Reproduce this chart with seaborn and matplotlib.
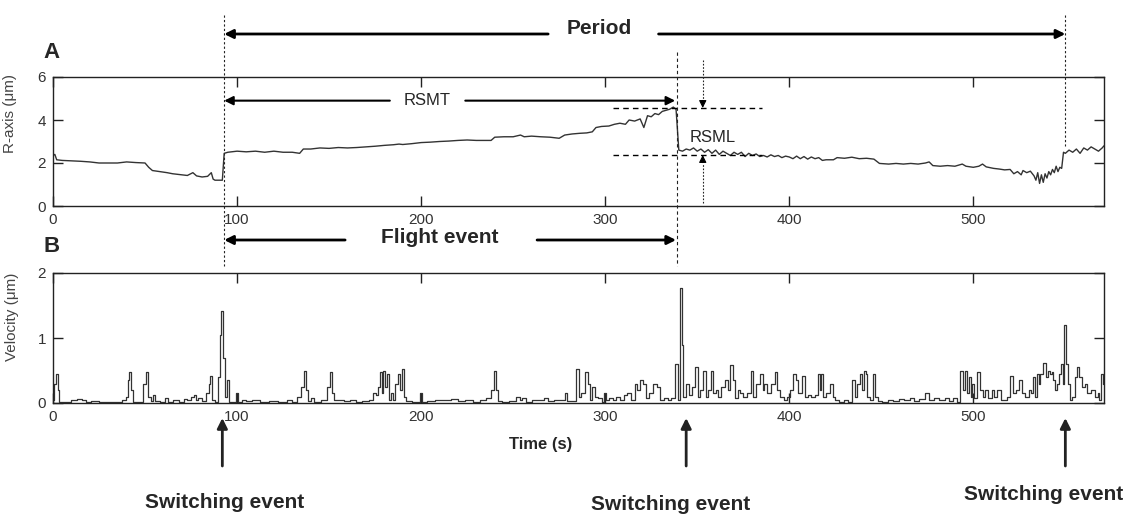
import matplotlib
matplotlib.use("Agg")
import matplotlib.pyplot as plt
from matplotlib.lines import Line2D
from matplotlib.transforms import blended_transform_factory
import pandas as pd
import seaborn as sns

# ---------------- data ----------------
r_time = [0, 1, 2, 5, 10, 15, 20, 25, 30, 35, 40, 45, 50, 52, 54, 58, 62, 65, 70, 73,
          76, 78, 81, 84, 86, 87, 88, 92, 93, 95, 100, 105, 110, 115, 120, 125, 130, 134,
          136, 140, 145, 150, 155, 160, 165, 170, 175, 180, 185, 188, 190, 195, 200, 205,
          210, 215, 220, 225, 230, 235, 238, 240, 245, 250, 254, 256, 260, 265, 270, 275,
          278, 282, 286, 290, 293, 295, 298, 302, 305, 308, 311, 313, 316, 319, 321, 323,
          325, 327, 329, 331, 333, 335, 337, 338.5, 340, 342, 344, 346, 348, 350, 352, 354,
          356, 358, 360, 362, 364, 366, 368, 370, 372, 374, 376, 378, 380, 382, 384, 386,
          388, 390, 392, 394, 396, 398, 400, 402, 404, 406, 408, 410, 412, 414, 416, 418,
          420, 424, 426, 430, 434, 438, 442, 446, 449, 454, 458, 462, 466, 470, 474, 476,
          478, 482, 486, 490, 492, 494, 496, 500, 503, 505, 507, 511, 514, 517, 520, 522,
          524, 526, 527, 529, 531, 533, 534, 535, 536, 537, 538, 539, 540, 541, 542, 543,
          544, 545, 546, 547, 548, 549, 550, 552, 554, 556, 558, 560, 562, 564, 566, 568,
          570, 571]
r_value = [2.35, 2.4, 2.15, 2.12, 2.1, 2.08, 2.05, 2.0, 2.0, 2.0, 2.05, 2.02, 2.0, 1.8, 1.65,
           1.6, 1.55, 1.5, 1.45, 1.42, 1.55, 1.4, 1.35, 1.38, 1.55, 1.25, 1.2, 1.2, 2.45, 2.5,
           2.55, 2.52, 2.55, 2.5, 2.55, 2.5, 2.5, 2.45, 2.65, 2.65, 2.7, 2.68, 2.72, 2.7, 2.72,
           2.75, 2.78, 2.82, 2.85, 2.88, 2.86, 2.9, 2.95, 2.97, 3.0, 3.02, 3.05, 3.07, 3.05,
           3.05, 3.05, 3.2, 3.22, 3.22, 3.3, 3.22, 3.25, 3.22, 3.2, 3.15, 3.3, 3.35, 3.38, 3.4,
           3.45, 3.65, 3.7, 3.72, 3.8, 3.85, 3.8, 4.0, 3.95, 4.05, 3.65, 4.2, 4.15, 4.3, 4.25,
           4.4, 4.45, 4.5, 4.6, 4.5, 2.6, 2.55, 2.65, 2.6, 2.7, 2.55, 2.65, 2.5, 2.62, 2.45,
           2.6, 2.4, 2.55, 2.45, 2.35, 2.5, 2.4, 2.5, 2.3, 2.45, 2.35, 2.42, 2.3, 2.35, 2.28,
           2.38, 2.3, 2.35, 2.25, 2.32, 2.28, 2.2, 2.32, 2.2, 2.3, 2.18, 2.28, 2.2, 2.25, 2.12,
           2.15, 2.15, 2.25, 2.22, 2.27, 2.2, 2.22, 2.18, 1.98, 1.95, 1.98, 1.95, 1.98, 1.95,
           2.0, 2.05, 1.88, 1.85, 1.88, 1.85, 1.9, 1.95, 1.85, 1.8, 1.85, 1.95, 1.82, 1.75,
           1.72, 1.68, 1.7, 1.5, 1.6, 1.45, 1.65, 1.55, 1.62, 1.4, 1.2, 1.55, 1.05, 1.45, 1.1,
           1.5, 1.3, 1.6, 1.45, 1.7, 1.55, 1.85, 1.6, 1.8, 1.75, 2.5, 2.45, 2.6, 2.5, 2.65,
           2.45, 2.7, 2.6, 2.75, 2.65, 2.55, 2.7, 2.8]

vel_time = [0, 1, 2, 3, 4, 8, 12, 14, 17, 19, 22, 28, 36, 39, 40, 41, 42, 43, 44, 48, 50, 51,
            52, 54, 55, 56, 60, 62, 63, 67, 70, 72, 74, 76, 77, 78, 80, 82, 84, 85, 86, 87,
            89, 90, 91, 92, 93, 94, 95, 96, 99, 100, 101, 104, 106, 110, 115, 120, 125, 129,
            131, 134, 136, 137, 138, 139, 141, 143, 148, 150, 151, 152, 153, 156, 160, 163,
            166, 170, 173, 175, 176, 177, 178, 179, 180, 181, 182, 183, 184, 185, 187, 188,
            189, 190, 191, 193, 197, 199, 200, 201, 205, 210, 214, 218, 222, 226, 230, 234,
            237, 239, 240, 241, 242, 246, 250, 253, 254, 256, 258, 262, 266, 268, 270, 274,
            277, 279, 280, 283, 285, 286, 288, 290, 291, 292, 294, 295, 297, 299, 300, 301,
            303, 305, 307, 309, 311, 313, 315, 317, 318, 320, 321, 323, 325, 327, 329, 331,
            333, 335, 337, 339, 340, 341, 342, 343, 345, 346, 348, 350, 351, 352, 354, 355,
            357, 358, 359, 361, 362, 364, 366, 367, 369, 370, 371, 373, 374, 376, 378, 380,
            381, 383, 385, 386, 387, 389, 391, 393, 394, 396, 398, 400, 401, 403, 404, 406,
            408, 409, 411, 413, 415, 416, 417, 418, 419, 421, 423, 424, 426, 428, 431, 433,
            435, 436, 438, 439, 440, 441, 442, 443, 445, 446, 447, 449, 452, 455, 458, 461,
            464, 467, 469, 472, 475, 477, 480, 483, 486, 488, 490, 492, 494, 495, 496, 497,
            498, 499, 500, 501, 503, 504, 506, 507, 509, 511, 512, 514, 516, 518, 519, 521,
            522, 524, 526, 527, 529, 531, 532, 533, 534, 535, 536, 537, 539, 540, 541, 542,
            543, 544, 545, 546, 547, 548, 549, 550, 551, 552, 553, 554, 556, 557, 558, 560,
            561, 563, 565, 567, 568, 569, 570, 571]
vel_value = [0.05, 0.3, 0.45, 0.2, 0.02, 0.02, 0.05, 0.06, 0.04, 0.02, 0.03, 0.02, 0.02, 0.05,
             0.1, 0.35, 0.48, 0.2, 0.02, 0.02, 0.3, 0.48, 0.1, 0.03, 0.12, 0.03, 0.02, 0.08,
             0.02, 0.05, 0.02, 0.06, 0.04, 0.1, 0.12, 0.04, 0.07, 0.03, 0.15, 0.3, 0.42, 0.05,
             0.02, 0.4, 1.05, 1.42, 0.7, 0.1, 0.35, 0.02, 0.02, 0.16, 0.02, 0.05, 0.03, 0.04,
             0.02, 0.03, 0.02, 0.05, 0.02, 0.1, 0.25, 0.5, 0.2, 0.03, 0.08, 0.02, 0.05, 0.25,
             0.48, 0.15, 0.05, 0.04, 0.03, 0.04, 0.02, 0.03, 0.04, 0.15, 0.12, 0.25, 0.48, 0.15,
             0.5, 0.25, 0.45, 0.05, 0.15, 0.05, 0.3, 0.45, 0.2, 0.52, 0.1, 0.03, 0.02, 0.02,
             0.15, 0.02, 0.03, 0.05, 0.05, 0.06, 0.03, 0.04, 0.02, 0.05, 0.08, 0.2, 0.5, 0.2,
             0.03, 0.02, 0.03, 0.1, 0.05, 0.08, 0.02, 0.05, 0.04, 0.08, 0.03, 0.05, 0.04, 0.15,
             0.03, 0.03, 0.52, 0.1, 0.15, 0.48, 0.3, 0.05, 0.25, 0.1, 0.08, 0.02, 0.15, 0.05,
             0.08, 0.05, 0.1, 0.05, 0.12, 0.15, 0.05, 0.3, 0.2, 0.35, 0.3, 0.08, 0.15, 0.3,
             0.25, 0.05, 0.08, 0.05, 0.08, 0.6, 0.05, 1.77, 0.9, 0.1, 0.3, 0.12, 0.25, 0.55,
             0.1, 0.2, 0.5, 0.1, 0.2, 0.5, 0.15, 0.2, 0.1, 0.25, 0.35, 0.2, 0.58, 0.35, 0.08,
             0.2, 0.15, 0.1, 0.15, 0.5, 0.1, 0.3, 0.45, 0.2, 0.3, 0.15, 0.3, 0.48, 0.2, 0.1,
             0.05, 0.1, 0.2, 0.45, 0.35, 0.15, 0.42, 0.1, 0.12, 0.1, 0.12, 0.45, 0.2, 0.45,
             0.1, 0.15, 0.3, 0.1, 0.05, 0.02, 0.05, 0.02, 0.35, 0.1, 0.3, 0.45, 0.2, 0.5, 0.45,
             0.1, 0.05, 0.45, 0.1, 0.03, 0.02, 0.05, 0.03, 0.06, 0.04, 0.08, 0.03, 0.06, 0.15,
             0.05, 0.08, 0.04, 0.07, 0.03, 0.08, 0.02, 0.5, 0.2, 0.5, 0.15, 0.4, 0.1, 0.3,
             0.08, 0.48, 0.2, 0.1, 0.2, 0.08, 0.2, 0.1, 0.2, 0.05, 0.05, 0.1, 0.42, 0.15, 0.2,
             0.35, 0.15, 0.1, 0.2, 0.15, 0.4, 0.1, 0.45, 0.3, 0.45, 0.62, 0.4, 0.5, 0.45, 0.48,
             0.35, 0.2, 0.3, 0.45, 0.6, 0.3, 1.2, 0.6, 0.3, 0.05, 0.1, 0.4, 0.55, 0.4, 0.25,
             0.3, 0.15, 0.2, 0.1, 0.15, 0.05, 0.45, 0.3]

x_ticks = [0, 100, 200, 300, 400, 500]
r_ticks = [0, 2, 4, 6]
vel_ticks = [0, 1, 2]
x_max = 571

# annotation anchors (seconds / µm)
switch_lines = [93, 339, 550]        # vertical guide lines
switch_arrows = [92, 344, 550]       # "Switching event" arrows
rsmt_y = 4.9
rsml_x = 353
rsml_top = 4.56
rsml_bottom = 2.37

# ---------------- style ----------------
sns.set_style("ticks")
plt.rcParams['font.family'] = ['Liberation Sans', 'DejaVu Sans']

W, H = 1137, 516
fig = plt.figure(figsize=(W / 100, H / 100), dpi=100)


def FY(ypx):
    return 1 - ypx / H


def FX(xpx):
    return xpx / W


ax1 = fig.add_axes([FX(53), FY(206), FX(1104) - FX(53), FY(77) - FY(206)])
ax2 = fig.add_axes([FX(53), FY(403), FX(1104) - FX(53), FY(273) - FY(403)])

line_col = '#333333'
df_r = pd.DataFrame({'Time': r_time, 'R': r_value})
df_v = pd.DataFrame({'Time': vel_time, 'Velocity': vel_value})
sns.lineplot(data=df_r, x='Time', y='R', ax=ax1, color=line_col, linewidth=1.0,
             estimator=None, sort=False)
sns.lineplot(data=df_v, x='Time', y='Velocity', ax=ax2, color=line_col, linewidth=0.9,
             estimator=None, sort=False, drawstyle='steps-mid')

for ax in (ax1, ax2):
    ax.set_xlim(0, x_max)
    ax.set_xticks(x_ticks)
    ax.tick_params(direction='in', length=7, width=1, top=True, right=True,
                   labelsize=11, labelcolor='#333333', color='#222222', pad=5)
    for s in ax.spines.values():
        s.set_visible(True)
        s.set_linewidth(1.0)
        s.set_color('#222222')
    ax.set_xlabel('')

ax1.set_ylim(0, 6)
ax1.set_yticks(r_ticks)
ax2.set_ylim(0, 2)
ax2.set_yticks(vel_ticks)

ax1.set_ylabel('R-axis (μm)', fontsize=11, color='#444444')
ax1.yaxis.set_label_coords(-0.034, 0.72)
ax2.set_ylabel('Velocity (μm)', fontsize=11, color='#444444')
ax2.yaxis.set_label_coords(-0.032, 0.66)

fig.text(FX(541), FY(445), 'Time (s)', ha='center', va='center', fontsize=12,
         fontweight='bold')
fig.text(FX(52), FY(52), 'A', ha='center', va='center', fontsize=16, fontweight='bold')
fig.text(FX(52), FY(247), 'B', ha='center', va='center', fontsize=16, fontweight='bold')

# ---------------- guide lines ----------------
bt = blended_transform_factory(ax1.transData, fig.transFigure)
fig.add_artist(Line2D([switch_lines[0]] * 2, [FY(15), FY(266)], transform=bt,
                      color='#222222', lw=0.8, ls=(0, (2, 2))))
fig.add_artist(Line2D([switch_lines[1]] * 2, [FY(52), FY(266)], transform=bt,
                      color='#222222', lw=0.8, ls=(0, (3, 2.5))))
fig.add_artist(Line2D([switch_lines[2]] * 2, [FY(15), FY(146)], transform=bt,
                      color='#222222', lw=0.8, ls=(0, (2, 2))))

arrow_kw = dict(arrowstyle='-|>', color='black', shrinkA=0, shrinkB=0, mutation_scale=13)
mixed = ('data', 'figure fraction')

# Period
ax1.annotate('', xy=(switch_lines[0], FY(34)), xytext=(269, FY(34)), xycoords=mixed,
             textcoords=mixed, arrowprops=dict(lw=2, **arrow_kw), annotation_clip=False)
ax1.annotate('', xy=(switch_lines[2], FY(34)), xytext=(329, FY(34)), xycoords=mixed,
             textcoords=mixed, arrowprops=dict(lw=2, **arrow_kw), annotation_clip=False)
ax1.text(297, FY(29), 'Period', transform=bt, ha='center', va='center', fontsize=15,
         fontweight='bold')

# RSMT
ax1.annotate('', xy=(switch_lines[0], rsmt_y), xytext=(183, rsmt_y),
             arrowprops=dict(lw=1.5, **arrow_kw), annotation_clip=False)
ax1.annotate('', xy=(338, rsmt_y), xytext=(224, rsmt_y),
             arrowprops=dict(lw=1.5, **arrow_kw), annotation_clip=False)
ax1.text(203, rsmt_y, 'RSMT', ha='center', va='center', fontsize=12)

# RSML
ax1.plot([304, 385], [rsml_top, rsml_top], color='black', lw=1, ls=(0, (4, 3)),
         clip_on=False)
ax1.plot([304, 385], [rsml_bottom, rsml_bottom], color='black', lw=1, ls=(0, (4, 3)),
         clip_on=False)
fig.add_artist(Line2D([rsml_x] * 2, [FY(60), FY(100)], transform=bt, color='#222222',
                      lw=0.8, ls=(0, (1.5, 1.5))))
ax1.annotate('', xy=(rsml_x, rsml_top), xytext=(rsml_x, rsml_top + 0.35),
             arrowprops=dict(lw=0.8, arrowstyle='-|>', color='black', shrinkA=0,
                             shrinkB=0, mutation_scale=11), annotation_clip=False)
ax1.plot([rsml_x, rsml_x], [0.15, rsml_bottom - 0.35], color='#222222', lw=0.8,
         ls=(0, (1.5, 1.5)), clip_on=False)
ax1.annotate('', xy=(rsml_x, rsml_bottom), xytext=(rsml_x, rsml_bottom - 0.35),
             arrowprops=dict(lw=0.8, arrowstyle='-|>', color='black', shrinkA=0,
                             shrinkB=0, mutation_scale=11), annotation_clip=False)
ax1.text(346, 3.2, 'RSML', ha='left', va='center', fontsize=12)

# Flight event
ax1.annotate('', xy=(switch_lines[0], FY(240)), xytext=(158.7, FY(240)), xycoords=mixed,
             textcoords=mixed, arrowprops=dict(lw=2, **arrow_kw), annotation_clip=False)
ax1.annotate('', xy=(338.5, FY(240)), xytext=(263, FY(240)), xycoords=mixed,
             textcoords=mixed, arrowprops=dict(lw=2, **arrow_kw), annotation_clip=False)
ax1.text(210, FY(238), 'Flight event', transform=bt, ha='center', va='center',
         fontsize=15, fontweight='bold')

# Switching events
for xs in switch_arrows:
    ax2.annotate('', xy=(xs, FY(418)), xytext=(xs, FY(466)), xycoords=mixed,
                 textcoords=mixed,
                 arrowprops=dict(lw=2, arrowstyle='-|>', color='#222222', shrinkA=0,
                                 shrinkB=0, mutation_scale=15),
                 annotation_clip=False)
for xpx, ypx in [(225, 502), (671, 505), (1044, 494)]:
    fig.text(FX(xpx), FY(ypx), 'Switching event', ha='center', va='center', fontsize=15,
             fontweight='bold')

fig.savefig('out.png', dpi=100)
